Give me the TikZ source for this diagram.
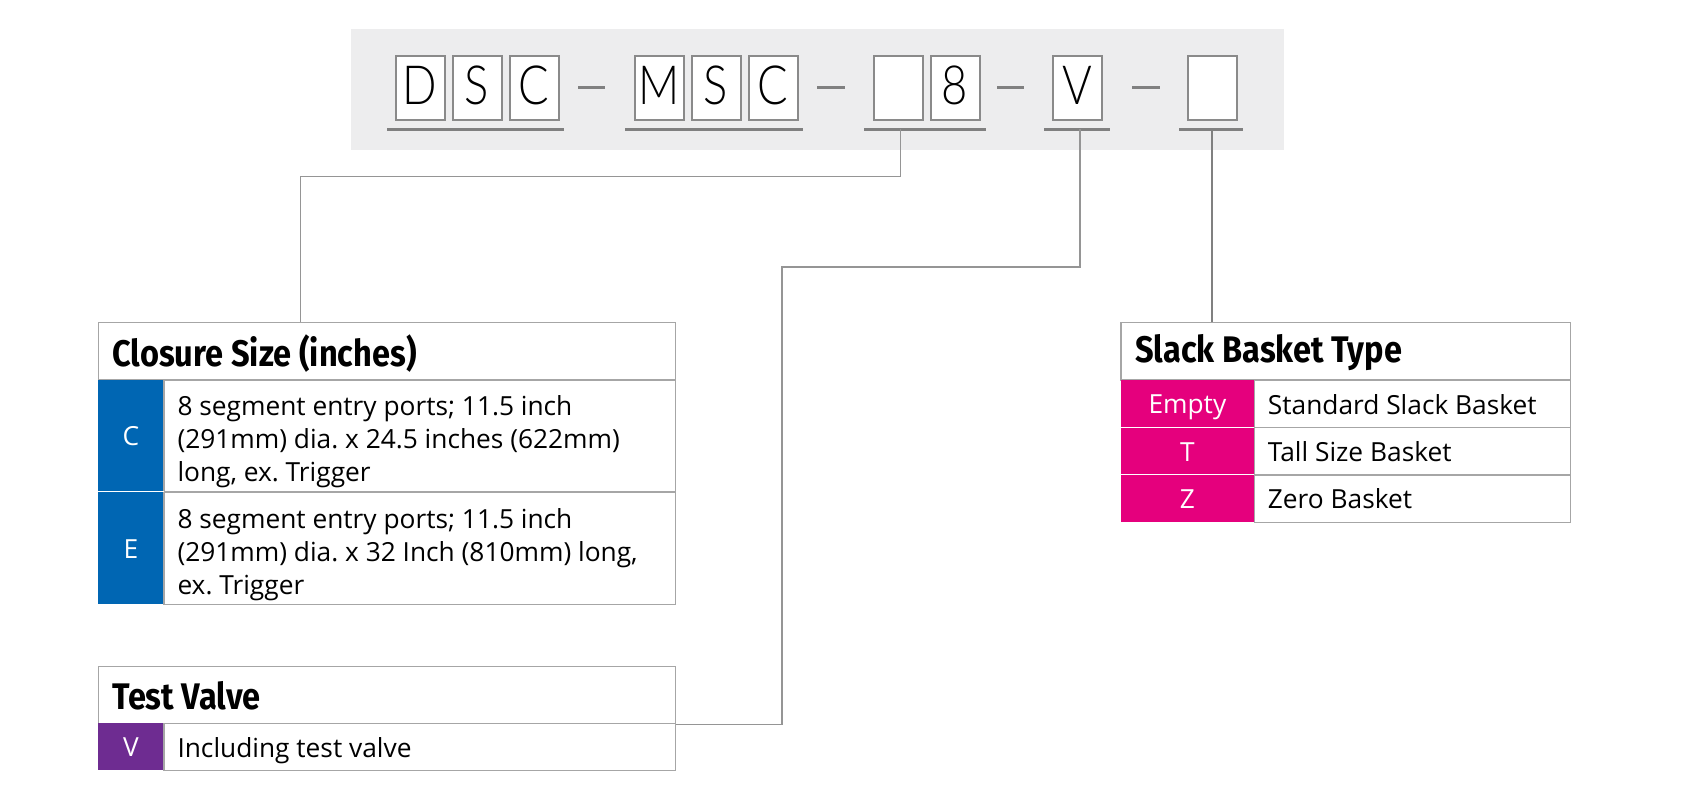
\documentclass[tikz,border=0pt]{standalone}
\usepackage{fontspec}
\setmainfont{Open Sans}
\newfontfamily\hdrfont{Fira Sans}
\newfontfamily\boxfont{Lato Light}
\definecolor{bggray}{HTML}{EDEDEE}
\definecolor{linegray}{HTML}{A6A6A6}
\definecolor{boxgray}{HTML}{8A8A8A}
\definecolor{ulgray}{HTML}{808080}
\definecolor{conngray}{HTML}{959595}
\definecolor{cblue}{HTML}{0066B3}
\definecolor{cmag}{HTML}{E5007D}
\definecolor{cpurple}{HTML}{6E2C91}
\newcommand\hx[1]{\scalebox{0.88}[1]{#1}}
\newcommand\bx[1]{\scalebox{0.84}[1]{#1}}
\frenchspacing
\tikzset{
  charbox/.style={draw=boxgray, line width=2pt, fill=white, minimum width=49pt, minimum height=64pt, inner sep=0pt, text depth=5pt, font=\boxfont\fontsize{54}{54}\selectfont},
  uline/.style={draw=ulgray, line width=2.6pt},
  dashline/.style={draw=ulgray, line width=2.4pt},
  conn/.style={draw=conngray, line width=1.4pt},
  connthick/.style={draw=ulgray, line width=2.4pt},
  hdrcell/.style={draw=linegray, line width=1.3pt, fill=white, anchor=north west, inner sep=0pt},
  hdrtext/.style={anchor=west, inner sep=0pt, font=\hdrfont\bfseries\fontsize{37}{37}\selectfont},
  colcell/.style={fill=#1, anchor=north west, inner sep=0pt, text=white, text height=22pt, text depth=1.5pt, font=\fontsize{26.3}{33}\selectfont},
  txtcell/.style={draw=linegray, line width=1.3pt, anchor=north west, inner sep=0pt},
  onetext/.style={anchor=west, inner sep=0pt, text height=22pt, text depth=1.5pt, font=\fontsize{26.3}{33}\selectfont},
  multitext/.style={anchor=west, inner sep=0pt, align=left, font=\fontsize{26.3}{33}\selectfont},
  sepline/.style={draw=white, line width=1pt},
}
\begin{document}
\begin{tikzpicture}[x=1pt,y=-1pt]
\useasboundingbox (0,0) rectangle (1694,805);
% background strip
\fill[bggray] (351,29) rectangle (1283.5,150);
% character boxes
\node[charbox] (bD) at (420,88) {\bx{D}};
\node[charbox] (bS1) at (477,88) {\bx{S}};
\node[charbox] (bC1) at (534,88) {\bx{C}};
\node[charbox] (bM) at (659,88) {\bx{M}};
\node[charbox] (bS2) at (716,88) {\bx{S}};
\node[charbox] (bC2) at (773,88) {\bx{C}};
\node[charbox] (bX) at (898,88) {};
\node[charbox] (b8) at (955,88) {\bx{8}};
\node[charbox] (bV) at (1077,88) {\bx{V}};
\node[charbox] (bL) at (1212,88) {};
% dashes
\draw[dashline] (578,87.5) -- (605,87.5);
\draw[dashline] (817,87.5) -- (845,87.5);
\draw[dashline] (997,87.5) -- (1024,87.5);
\draw[dashline] (1132,87.5) -- (1160,87.5);
% underlines
\draw[uline] (387,129.3) -- (564,129.3);
\draw[uline] (625,129.3) -- (803,129.3);
\draw[uline] (864,129.3) -- (986,129.3);
\draw[uline] (1044,129.3) -- (1110,129.3);
\draw[uline] (1179,129.3) -- (1243,129.3);
\coordinate (u8) at (900.4,129.3);
\coordinate (uV) at (1080,129.3);
\coordinate (uL) at (1212,129.3);

% Closure size table
\node[hdrcell, minimum width=577pt, minimum height=57.6pt] (cH) at (98,321.7) {};
\node[hdrtext] (cHt) at ([xshift=14pt,yshift=-2pt]cH.west) {\hx{Closure Size (inches)}};
\node[colcell=cblue, minimum width=65.3pt, minimum height=112pt] (cC) at (98,379.3) {C};
\node[txtcell, minimum width=511.7pt, minimum height=112pt] (cCt) at (163.3,379.3) {};
\node[multitext] (cCx) at ([xshift=14pt,yshift=-6pt]cCt.west) {8 segment entry ports; 11.5 inch\\(291mm) dia. x 24.5 inches (622mm)\\long, ex. Trigger};
\node[colcell=cblue, minimum width=65.3pt, minimum height=112.7pt] (cE) at (98,491.3) {E};
\node[txtcell, minimum width=511.7pt, minimum height=112.7pt] (cEt) at (163.3,491.3) {};
\node[multitext] (cEx) at ([xshift=14pt,yshift=-6pt]cEt.west) {8 segment entry ports; 11.5 inch\\(291mm) dia. x 32 Inch (810mm) long,\\ex. Trigger};
\draw[sepline] (cC.south west) -- (cC.south east);
\coordinate (cin) at (300.4,321.7);

% Test valve table
\node[hdrcell, minimum width=577pt, minimum height=57.5pt] (tH) at (98,665.5) {};
\node[hdrtext] (tHt) at ([xshift=14pt,yshift=-1pt]tH.west) {\hx{Test Valve}};
\node[colcell=cpurple, minimum width=65.3pt, minimum height=47pt] (tV) at (98,723) {V};
\node[txtcell, minimum width=511.7pt, minimum height=47pt] (tVt) at (163.3,723) {};
\node[onetext] (tVx) at ([xshift=14pt]tVt.west) {Including test valve};

% Slack basket table
\node[hdrcell, minimum width=449.6pt, minimum height=57.8pt] (sH) at (1120.4,321.5) {};
\node[hdrtext] (sHt) at ([xshift=14.6pt,yshift=-2pt]sH.west) {\hx{Slack Basket Type}};
\node[colcell=cmag, minimum width=133.6pt, minimum height=47.7pt] (sE) at (1120.4,379.3) {Empty};
\node[txtcell, minimum width=316pt, minimum height=47.7pt] (sEt) at (1254,379.3) {};
\node[onetext] (sEx) at ([xshift=13.7pt]sEt.west) {Standard Slack Basket};
\node[colcell=cmag, minimum width=133.6pt, minimum height=47.3pt] (sT) at (1120.4,427) {T};
\node[txtcell, minimum width=316pt, minimum height=47.3pt] (sTt) at (1254,427) {};
\node[onetext] (sTx) at ([xshift=13.7pt]sTt.west) {Tall Size Basket};
\node[colcell=cmag, minimum width=133.6pt, minimum height=47.5pt] (sZ) at (1120.4,474.3) {Z};
\node[txtcell, minimum width=316pt, minimum height=47.5pt] (sZt) at (1254,474.3) {};
\node[onetext] (sZx) at ([xshift=13.7pt]sZt.west) {Zero Basket};
\draw[sepline] (sE.south west) -- (sE.south east);
\draw[sepline] (sT.south west) -- (sT.south east);

% connectors
\coordinate (k1) at (600,176.7);
\coordinate (k2) at (900,267);
\coordinate (k3) at (782,500);
\draw[conn] (u8) |- (k1) -| (cin);
\draw[conn] (uV) |- (k2) -| (k3) |- (tH.south east);
\draw[connthick] (uL) -- (uL |- sH.north);
\end{tikzpicture}
\end{document}
